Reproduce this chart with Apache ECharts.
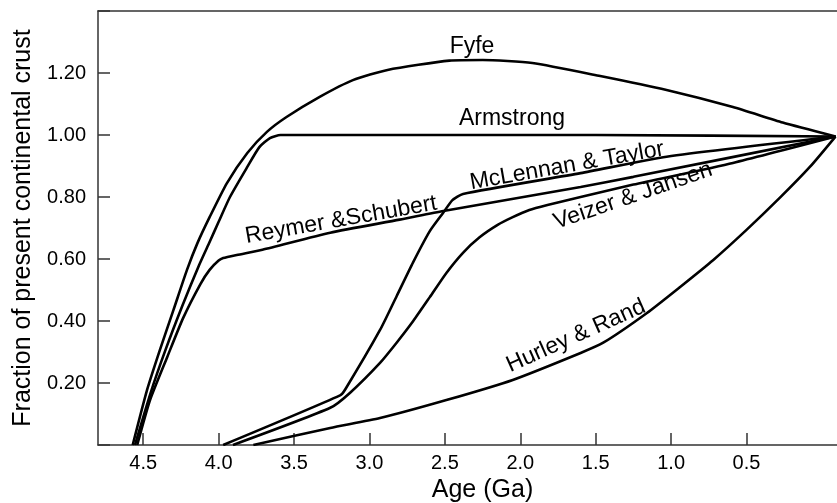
<!DOCTYPE html>
<html>
<head>
<meta charset="utf-8">
<script src="https://cdn.jsdelivr.net/npm/echarts@6/dist/echarts.min.js"></script>
<style>
  html, body { margin: 0; padding: 0; background: #fff; }
  #chart { width: 837px; height: 503px; }
</style>
</head>
<body>
<div id="chart"></div>
<script>
// curves: [age (Ga), fraction of present crust]
const fyfe = [[4.57,0],[4.475,0.177],[4.39,0.306],[4.30,0.435],[4.21,0.565],[4.14,0.652],[4.06,0.735],[3.945,0.845],[3.81,0.942],[3.68,1.01],[3.55,1.058],[3.33,1.123],[3.11,1.177],[2.88,1.21],[2.47,1.24],[2.25,1.242],[1.92,1.232],[1.47,1.19],[1.03,1.145],[0.59,1.09],[0.26,1.04],[-0.09,0.995]]
const armstrong = [[4.555,0],[4.45,0.17],[4.35,0.31],[4.24,0.45],[4.13,0.58],[4.06,0.655],[4.0,0.72],[3.925,0.8],[3.81,0.897],[3.73,0.961],[3.66,0.99],[3.59,1.0],[2.47,1.0],[1.5,1.0],[-0.09,0.995]]
const reymerSchubert = [[4.54,0],[4.455,0.145],[4.34,0.285],[4.235,0.41],[4.12,0.52],[4.06,0.565],[4.0,0.595],[3.97,0.603],[3.88,0.613],[3.71,0.63],[3.26,0.685],[2.8,0.727],[2.51,0.755],[1.6,0.832],[1.25,0.865],[-0.09,0.995]]
const mcLennanTaylor = [[3.97,0],[3.195,0.16],[3.16,0.18],[2.93,0.371],[2.82,0.48],[2.71,0.59],[2.60,0.69],[2.51,0.75],[2.45,0.79],[2.38,0.81],[1.6,0.877],[1.03,0.93],[-0.09,0.995]]
const veizerJansen = [[3.905,0],[3.26,0.12],[3.13,0.168],[2.93,0.265],[2.82,0.33],[2.71,0.40],[2.60,0.477],[2.49,0.555],[2.38,0.62],[2.27,0.67],[2.15,0.71],[2.05,0.735],[1.94,0.758],[1.82,0.774],[1.6,0.80],[1.25,0.84],[0.59,0.91],[-0.09,0.995]]
const hurleyRand = [[3.77,0],[3.26,0.055],[2.93,0.087],[2.49,0.145],[2.05,0.21],[1.6,0.297],[1.45,0.33],[1.16,0.426],[0.94,0.51],[0.72,0.597],[0.50,0.694],[0.28,0.797],[0.08,0.897],[-0.09,0.995]]

const xTicks = [4.5, 4.0, 3.5, 3.0, 2.5, 2.0, 1.5, 1.0, 0.5]
const yTickLabels = ['0.20', '0.40', '0.60', '0.80', '1.00', '1.20']

const font = '"Liberation Sans", Arial, Helvetica, sans-serif'
const axisColor = '#333'

let chart = echarts.init(document.getElementById('chart'))

function curve(name, data) {
  return {
    name: name,
    type: 'line',
    data: data,
    showSymbol: false,
    symbol: 'none',
    smooth: 0.2,
    lineStyle: { color: '#000', width: 2.6 },
    animation: false
  }
}

function label(text, x, y, deg) {
  return {
    type: 'text',
    x: x,
    y: y,
    rotation: deg * Math.PI / 180,
    style: {
      text: text,
      x: 0,
      y: 0,
      align: 'center',
      verticalAlign: 'middle',
      fill: '#000',
      font: '23px ' + font
    }
  }
}

let option = {
  backgroundColor: '#fff',
  grid: { left: 98, right: 0, top: 11, bottom: 58, outerBoundsMode: 'none', containLabel: false },
  xAxis: [{
    type: 'value',
    inverse: true,
    min: -0.1,
    max: 4.8,
    name: 'Age (Ga)',
    nameLocation: 'middle',
    nameGap: 31,
    nameTextStyle: { fontFamily: font, fontSize: 25, color: '#000', padding: [0, 0, 0, 30] },
    axisLine: { onZero: false, lineStyle: { color: axisColor, width: 1.5 } },
    axisTick: { inside: true, length: 12, customValues: xTicks, lineStyle: { color: axisColor, width: 1.5 } },
    axisLabel: {
      customValues: xTicks,
      formatter: v => v.toFixed(1),
      margin: 8,
      fontFamily: font,
      fontSize: 20,
      color: '#000'
    },
    splitLine: { show: false }
  }, {
    type: 'value',
    position: 'top',
    inverse: true,
    min: -0.1,
    max: 4.8,
    axisLine: { show: true, onZero: false, lineStyle: { color: axisColor, width: 1.5 } },
    axisTick: { show: false },
    axisLabel: { show: false },
    splitLine: { show: false }
  }],
  yAxis: {
    type: 'value',
    min: 0,
    max: 1.4,
    interval: 0.2,
    name: 'Fraction of present continental crust',
    nameLocation: 'middle',
    nameGap: 62,
    nameTextStyle: { fontFamily: font, fontSize: 25, color: '#000' },
    axisLine: { show: true, onZero: false, lineStyle: { color: axisColor, width: 1.5 } },
    axisTick: { inside: true, length: 12, lineStyle: { color: axisColor, width: 1.5 } },
    axisLabel: {
      margin: 12,
      fontFamily: font,
      fontSize: 20,
      color: '#000',
      formatter: v => {
        let s = v.toFixed(2)
        return yTickLabels.includes(s) ? s : ''
      }
    },
    splitLine: { show: false }
  },
  series: [
    curve('Fyfe', fyfe),
    curve('Armstrong', armstrong),
    curve('Reymer & Schubert', reymerSchubert),
    curve('McLennan & Taylor', mcLennanTaylor),
    curve('Veizer & Jansen', veizerJansen),
    curve('Hurley & Rand', hurleyRand)
  ],
  graphic: [
    label('Fyfe', 472, 47, 0),
    label('Armstrong', 512, 119, 0),
    label('Reymer &Schubert', 341, 220, 10),
    label('McLennan & Taylor', 567, 166, 10),
    label('Veizer & Jansen', 633, 196, 19),
    label('Hurley & Rand', 576, 336, 24)
  ]
}

option && chart.setOption(option)
</script>
</body>
</html>
